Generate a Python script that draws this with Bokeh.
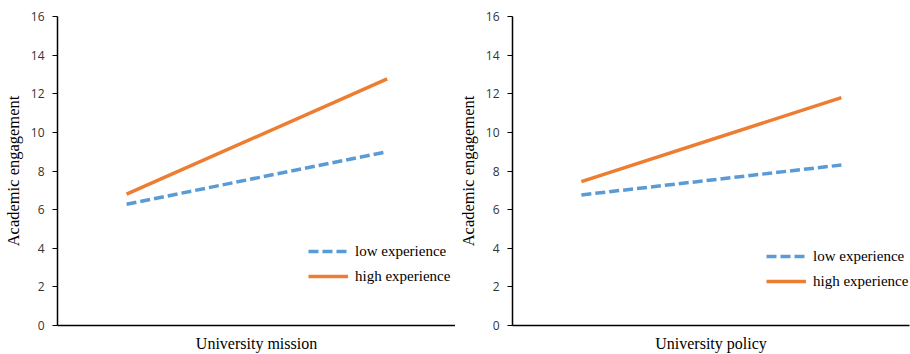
from bokeh.plotting import figure
from bokeh.layouts import row
from bokeh.models import FixedTicker, Range1d
from bokeh.embed import file_html
from bokeh.resources import INLINE

# ---- data ----
x_levels = [0, 1]                      # low / high level of the predictor
y_ticks = [0, 2, 4, 6, 8, 10, 12, 14, 16]

mission_low_exp = [6.28, 9.00]
mission_high_exp = [6.80, 12.77]

policy_low_exp = [6.76, 8.31]
policy_high_exp = [7.45, 11.80]

x_titles = ["University mission", "University policy"]
y_title = "Academic engagement"
series_names = ["low experience", "high experience"]

BLUE = "#5B9BD5"
ORANGE = "#ED7D31"
SERIF = "Liberation Serif"
TICKFONT = "Open Sans"


def panel(width, height, low, high, xtitle, border_left, border_right, border_top,
          border_bottom, legend_loc):
    p = figure(width=width, height=height, output_backend="svg",
               toolbar_location=None, min_border_left=border_left,
               min_border_right=border_right, min_border_top=border_top,
               min_border_bottom=border_bottom,
               x_range=Range1d(-0.265, 1.262), y_range=Range1d(0, 16))
    p.outline_line_color = None
    p.xgrid.visible = False
    p.ygrid.visible = False
    p.background_fill_color = "white"
    p.border_fill_color = "white"

    p.line(x_levels, low, line_color=BLUE, line_width=3.5, line_dash="10 4",
           legend_label=series_names[0])
    p.line(x_levels, high, line_color=ORANGE, line_width=3.5,
           legend_label=series_names[1])

    # y axis
    ya = p.yaxis[0]
    ya.ticker = FixedTicker(ticks=y_ticks)
    ya.major_tick_out = 5
    ya.major_tick_in = 0
    ya.minor_tick_out = 0
    ya.minor_tick_in = 0
    ya.major_label_standoff = 8
    ya.major_label_text_font = TICKFONT
    ya.major_label_text_font_size = "12px"
    ya.major_label_text_color = "#333333"
    ya.axis_line_color = "black"
    ya.axis_line_width = 1.5
    ya.major_tick_line_color = "black"
    ya.major_tick_line_width = 1.2
    ya.axis_label = y_title
    ya.axis_label_text_font = SERIF
    ya.axis_label_text_font_size = "16.5px"
    ya.axis_label_text_font_style = "normal"
    ya.axis_label_text_color = "black"
    ya.axis_label_standoff = 5

    # x axis
    xa = p.xaxis[0]
    xa.ticker = FixedTicker(ticks=[])
    xa.major_tick_out = 0
    xa.major_tick_in = 0
    xa.minor_tick_out = 0
    xa.minor_tick_in = 0
    xa.axis_line_color = "black"
    xa.axis_line_width = 1.5
    xa.axis_label = xtitle
    xa.axis_label_text_font = SERIF
    xa.axis_label_text_font_size = "16px"
    xa.axis_label_text_font_style = "normal"
    xa.axis_label_text_color = "black"
    xa.axis_label_standoff = 9

    lg = p.legend[0]
    lg.location = legend_loc
    lg.border_line_color = None
    lg.background_fill_alpha = 0
    lg.padding = 0
    lg.margin = 0
    lg.spacing = 5
    lg.glyph_width = 40
    lg.glyph_height = 20
    lg.label_height = 20
    lg.label_standoff = 7
    lg.label_text_font = SERIF
    lg.label_text_font_size = "15px"
    lg.label_text_color = "black"
    return p


p1 = panel(455, 354, mission_low_exp, mission_high_exp, x_titles[0],
           55, 0, 15, 29, (251, 39))
p2 = panel(455, 354, policy_low_exp, policy_high_exp, x_titles[1],
           55, 1, 16, 28, (254, 34))

layout = row(p1, p2)
open("out.html", "w").write(file_html(layout, INLINE))
